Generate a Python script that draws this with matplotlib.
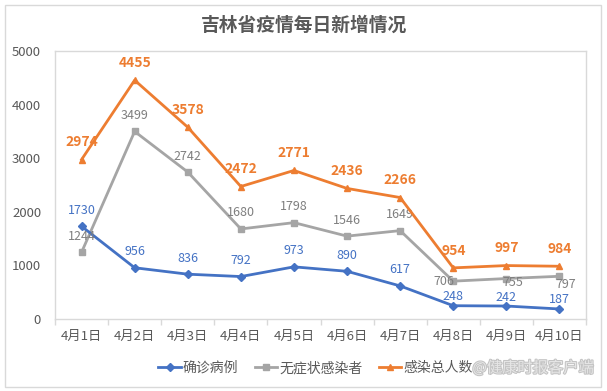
import matplotlib
matplotlib.use("Agg")
import matplotlib.pyplot as plt
import matplotlib.patheffects as pe
from matplotlib.patches import Rectangle
from matplotlib.ticker import FixedLocator

plt.rcParams['font.family'] = ['Noto Sans CJK SC', 'DejaVu Sans']

dates = ['4月1日', '4月2日', '4月3日', '4月4日', '4月5日', '4月6日', '4月7日', '4月8日', '4月9日', '4月10日']
confirmed = [1730, 956, 836, 792, 973, 890, 617, 248, 242, 187]
asymptomatic = [1244, 3499, 2742, 1680, 1798, 1546, 1649, 706, 755, 797]
total = [2974, 4455, 3578, 2472, 2771, 2436, 2266, 954, 997, 984]
series_names = ['确诊病例', '无症状感染者', '感染总人数']
title = '吉林省疫情每日新增情况'
yticks = [0, 1000, 2000, 3000, 4000, 5000]

blue = '#4472C4'
gray = '#A5A5A5'
orange = '#ED7D31'

W, H = 607, 391
fig = plt.figure(figsize=(W / 100, H / 100), dpi=100)
fig.patch.set_facecolor('white')

# outer border
fig.patches.append(Rectangle((5 / W, 4 / H), 596 / W, 382 / H, transform=fig.transFigure,
                             fill=False, edgecolor='#D9D9D9', linewidth=1.0))

ax = fig.add_axes([55 / W, 72 / H, 531 / W, 268 / H])
x = list(range(len(dates)))

ax.plot(x, confirmed, color=blue, lw=2, marker='D', ms=4, label=series_names[0], zorder=3)
ax.plot(x, asymptomatic, color=gray, lw=2, marker='s', ms=5, label=series_names[1], zorder=2)
ax.plot(x, total, color=orange, lw=2, marker='^', ms=5, label=series_names[2], zorder=4)

ax.set_xlim(-0.5, len(dates) - 0.5)
ax.set_ylim(0, 5000)
ax.set_yticks(yticks)
ax.set_xticks(x)
ax.set_xticklabels(dates)
ax.xaxis.set_minor_locator(FixedLocator([i - 0.5 for i in range(len(dates) + 1)]))
ax.tick_params(axis='x', which='major', length=0, pad=8, labelsize=9.5, colors='#595959')
ax.tick_params(axis='x', which='minor', length=4, color='#D9D9D9', width=1)
ax.tick_params(axis='y', length=0, pad=10, labelsize=9.5, colors='#595959')

for s in ax.spines.values():
    s.set_color('#D9D9D9')
    s.set_linewidth(1.0)

# data labels (offsets in points)
for i, v in enumerate(confirmed):
    dy = 6.5 if i >= 7 else 11.5
    ax.annotate(str(v), (i, v), xytext=(0, dy), textcoords='offset points',
                ha='center', va='center', fontsize=9, color=blue)

gray_off = {7: (-7, 0), 8: (4.5, -3), 9: (4.5, -6)}
for i, v in enumerate(asymptomatic):
    off = gray_off.get(i, (0, 11.5))
    ax.annotate(str(v), (i, v), xytext=off, textcoords='offset points',
                ha='center', va='center', fontsize=9, color='#7F7F7F')

for i, v in enumerate(total):
    ax.annotate(str(v), (i, v), xytext=(0, 12.5), textcoords='offset points',
                ha='center', va='center', fontsize=10, color=orange, fontweight='bold')

fig.text(0.5, 1 - 25 / H, title, ha='center', va='center', fontsize=13.5,
         fontweight='bold', color='#595959')

leg = fig.legend(loc='center', bbox_to_anchor=(0.52, 1 - 368 / H), ncol=3, frameon=False,
                 fontsize=10, handlelength=1.6, columnspacing=1.2, handletextpad=0.15)
for t in leg.get_texts():
    t.set_color('#595959')

# watermark
fig.text(0.978, 1 - 368 / H, '@健康时报客户端', ha='right', va='center', fontsize=11,
         color='#E6E6E6', path_effects=[pe.withStroke(linewidth=1.5, foreground='#C4C4C4')])

fig.savefig('out.png', dpi=100, facecolor='white')
